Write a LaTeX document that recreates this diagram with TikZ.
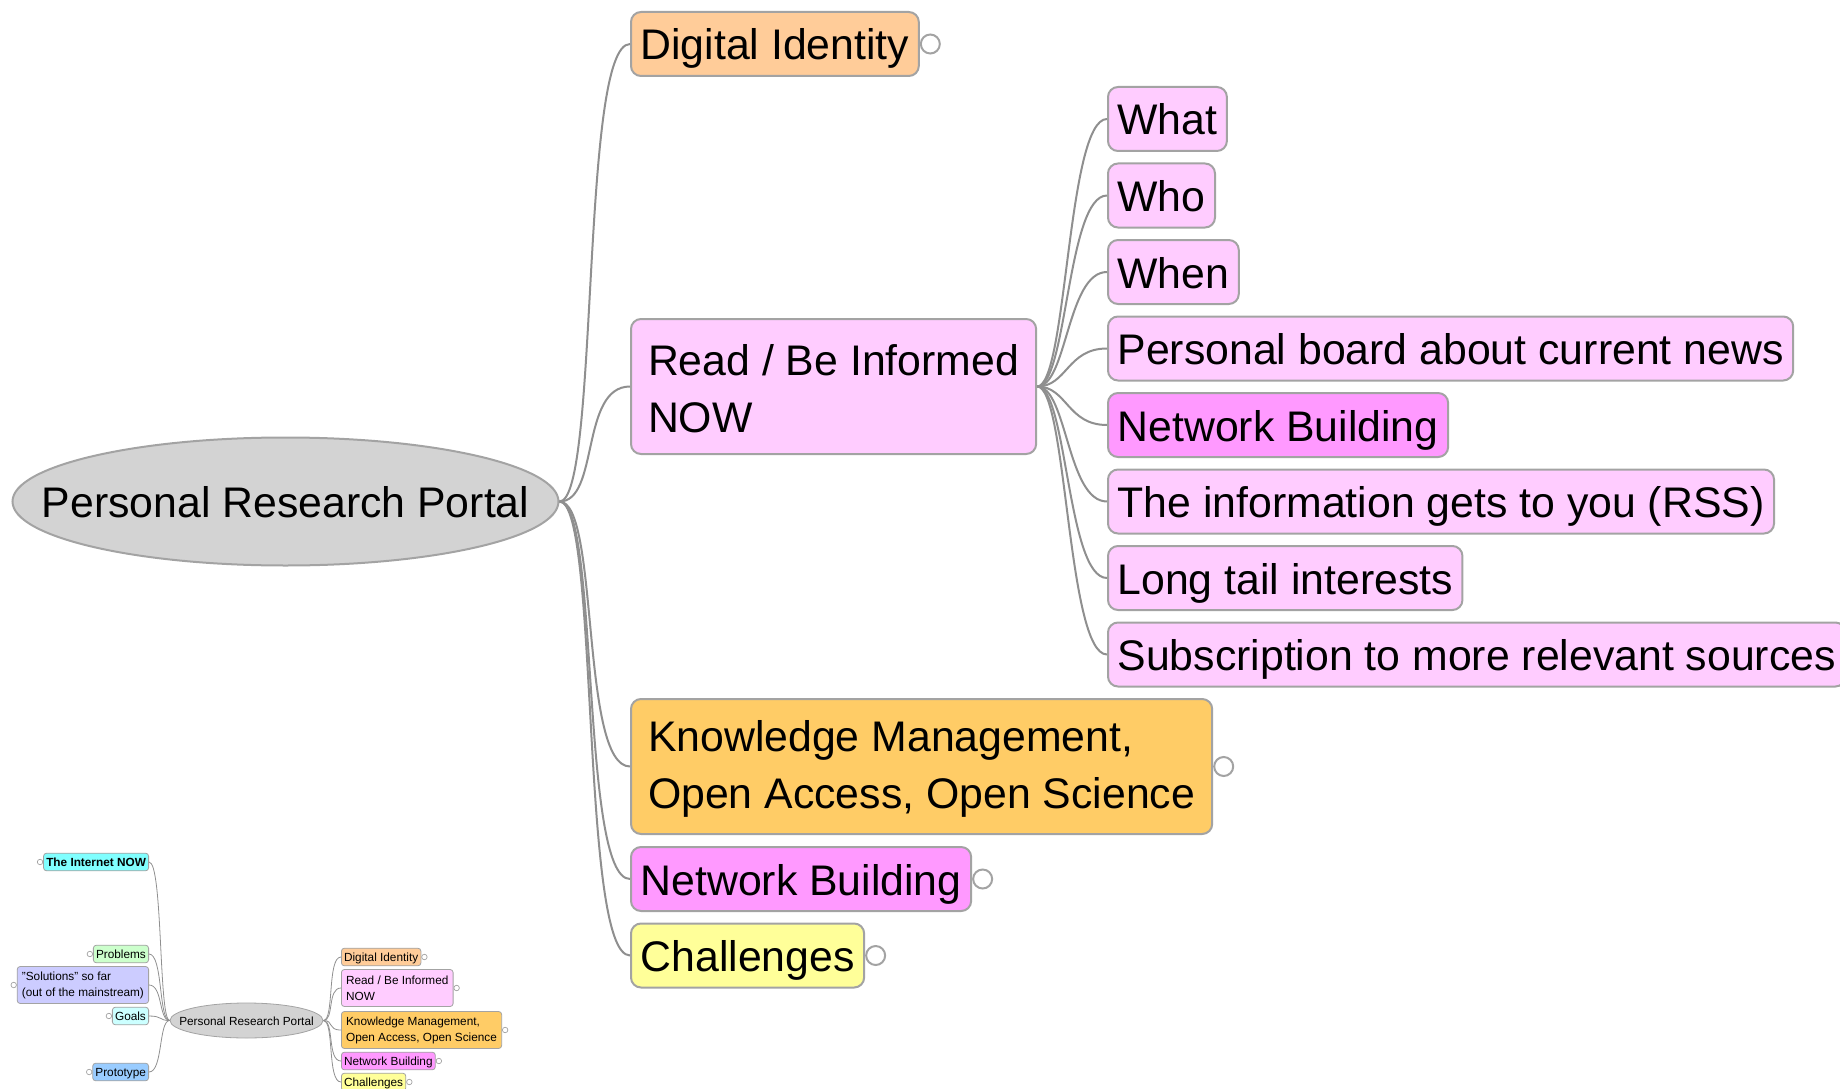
\documentclass[tikz,border=0pt]{standalone}
\usepackage{fontspec}
\setmainfont{Liberation Sans}
\usetikzlibrary{positioning,shapes.geometric}

\definecolor{wire}{HTML}{8F8F8F}
\definecolor{rim}{HTML}{A3A3A3}
\definecolor{rootgray}{HTML}{D3D3D3}
\definecolor{peach}{HTML}{FFCC99}
\definecolor{rosy}{HTML}{FFCCFF}
\definecolor{fuchsia}{HTML}{FF99FF}
\definecolor{amber}{HTML}{FFCC66}
\definecolor{lemon}{HTML}{FFFF99}
\definecolor{aqua}{HTML}{80FFFF}
\definecolor{mint}{HTML}{CCFFCC}
\definecolor{lilac}{HTML}{CCCCFF}
\definecolor{ice}{HTML}{CCFFFF}
\definecolor{sky}{HTML}{99CCFF}

\newcommand{\bigline}{\rule[-2pt]{0pt}{38pt}}
\newcommand{\miniline}{\rule[-0.5pt]{0pt}{10.5pt}}

\begin{document}
\begin{tikzpicture}[x=1pt,y=-1pt,
  box/.style={draw=rim,line width=2pt,rounded corners=10pt,anchor=west,
              font=\fontsize{42.8}{57}\selectfont},
  topic/.style={box,inner xsep=9.5pt,inner ysep=12pt,text height=36pt,text depth=4pt},
  block/.style={box,align=left,inner xsep=17pt,inner ysep=0pt,minimum height=135pt},
  root/.style={ellipse,draw=rim,fill=rootgray,line width=2pt,inner sep=0pt,
               minimum width=546pt,minimum height=128pt,
               font=\fontsize{42.8}{57}\selectfont,text height=36pt,text depth=4pt},
  knob/.style={circle,draw=rim,fill=white,line width=2pt,minimum size=19pt,inner sep=0pt},
  mini/.style={draw=rim,line width=0.8pt,rounded corners=3pt,
               font=\fontsize{11.8}{15.7}\selectfont,inner xsep=2.7pt,inner ysep=3.3pt,
               text height=10pt,text depth=1pt},
  miniblock/.style={draw=rim,line width=0.8pt,rounded corners=3pt,align=left,
               font=\fontsize{11.8}{15.7}\selectfont,inner xsep=4.7pt,inner ysep=0pt,
               minimum height=37pt},
  miniroot/.style={ellipse,draw=rim,fill=rootgray,line width=0.8pt,inner sep=0pt,
               minimum width=153pt,minimum height=35pt,
               font=\fontsize{11.8}{15.7}\selectfont,text height=10pt,text depth=1pt},
  miniknob/.style={circle,draw=rim,fill=white,line width=0.7pt,minimum size=5.5pt,inner sep=0pt},
  branch/.style 2 args={draw=wire,line width=2pt,
               to path={.. controls +(#1,0) and +(#2,0) .. (\tikztotarget)}}]
\useasboundingbox (0,0) rectangle (1840,1089);
\clip (0,0) rectangle (1840,1089);

\node[root] (prp) at (285.5,501.5) {\makebox[0pt]{Personal Research Portal}};
\node[topic,fill=peach] (di) at (630,44) {Digital Identity};
\node[block,fill=rosy] (read) at (630,386.5) {\bigline Read / Be Informed\\\bigline NOW};
\node[block,fill=amber] (km) at (630,766.5) {\bigline Knowledge Management,\\\bigline Open Access, Open Science};
\node[topic,fill=fuchsia] (nb) at (630,879) {Network Building};
\node[topic,fill=lemon] (ch) at (630,955.5) {Challenges};

\node[knob,right=0pt of di] (di-k) {};
\node[knob,right=0pt of km] (km-k) {};
\node[knob,right=0pt of nb] (nb-k) {};
\node[knob,right=0pt of ch] (ch-k) {};

\node[topic,fill=rosy] (what) at (1107,119) {What};
\node[topic,fill=rosy,below=10.5pt of what.south west,anchor=north west] (who) {Who};
\node[topic,fill=rosy,below=10.5pt of who.south west,anchor=north west] (when) {When};
\node[topic,fill=rosy,below=10.5pt of when.south west,anchor=north west] (news) {Personal board about current news};
\node[topic,fill=fuchsia,below=10.5pt of news.south west,anchor=north west] (net) {Network Building};
\node[topic,fill=rosy,below=10.5pt of net.south west,anchor=north west] (rss) {The information gets to you (RSS)};
\node[topic,fill=rosy,below=10.5pt of rss.south west,anchor=north west] (tail) {Long tail interests};
\node[topic,fill=rosy,below=10.5pt of tail.south west,anchor=north west] (subs) {Subscription to more relevant sources};

\draw[branch={40}{-50}] (prp.east) to (di.west);
\draw[branch={40}{-50}] (prp.east) to (read.west);
\draw[branch={40}{-50}] (prp.east) to (km.west);
\draw[branch={40}{-50}] (prp.east) to (nb.west);
\draw[branch={40}{-50}] (prp.east) to (ch.west);

\draw[branch={30}{-40}] (read.east) to (what.west);
\draw[branch={30}{-40}] (read.east) to (who.west);
\draw[branch={30}{-40}] (read.east) to (when.west);
\draw[branch={30}{-40}] (read.east) to (news.west);
\draw[branch={30}{-40}] (read.east) to (net.west);
\draw[branch={30}{-40}] (read.east) to (rss.west);
\draw[branch={30}{-40}] (read.east) to (tail.west);
\draw[branch={30}{-40}] (read.east) to (subs.west);

\node[miniroot] (m-prp) at (246.5,1020.5) {\makebox[0pt]{Personal Research Portal}};
\node[mini,fill=aqua,anchor=east] (m-web) at (149,862) {\textbf{The Internet NOW}};
\node[mini,fill=mint,anchor=east] (m-prob) at (149,954) {Problems};
\node[miniblock,fill=lilac,anchor=east] (m-sol) at (149,985) {\miniline"Solutions" so far\\\miniline(out of the mainstream)};
\node[mini,fill=ice,anchor=east] (m-goal) at (149,1016) {Goals};
\node[mini,fill=sky,anchor=east] (m-proto) at (149,1072) {Prototype};
\node[mini,fill=peach,anchor=west] (m-di) at (341,957) {Digital Identity};
\node[miniblock,fill=rosy,anchor=west] (m-read) at (341,988) {\miniline Read / Be Informed\\\miniline NOW};
\node[miniblock,fill=amber,anchor=west] (m-km) at (341,1030) {\miniline Knowledge Management,\\\miniline Open Access, Open Science};
\node[mini,fill=fuchsia,anchor=west] (m-nb) at (341,1061) {Network Building};
\node[mini,fill=lemon,anchor=west] (m-ch) at (341,1082) {Challenges};

\node[miniknob,left=0pt of m-web] (m-web-k) {};
\node[miniknob,left=0pt of m-prob] (m-prob-k) {};
\node[miniknob,left=0pt of m-sol] (m-sol-k) {};
\node[miniknob,left=0pt of m-goal] (m-goal-k) {};
\node[miniknob,left=0pt of m-proto] (m-proto-k) {};
\node[miniknob,right=0pt of m-di] (m-di-k) {};
\node[miniknob,right=0pt of m-read] (m-read-k) {};
\node[miniknob,right=0pt of m-km] (m-km-k) {};
\node[miniknob,right=0pt of m-nb] (m-nb-k) {};
\node[miniknob,right=0pt of m-ch] (m-ch-k) {};

\draw[branch={-11}{14},line width=0.8pt] (m-prp.west) to (m-web.east);
\draw[branch={-11}{14},line width=0.8pt] (m-prp.west) to (m-prob.east);
\draw[branch={-11}{14},line width=0.8pt] (m-prp.west) to (m-sol.east);
\draw[branch={-11}{14},line width=0.8pt] (m-prp.west) to (m-goal.east);
\draw[branch={-11}{14},line width=0.8pt] (m-prp.west) to (m-proto.east);
\draw[branch={11}{-14},line width=0.8pt] (m-prp.east) to (m-di.west);
\draw[branch={11}{-14},line width=0.8pt] (m-prp.east) to (m-read.west);
\draw[branch={11}{-14},line width=0.8pt] (m-prp.east) to (m-km.west);
\draw[branch={11}{-14},line width=0.8pt] (m-prp.east) to (m-nb.west);
\draw[branch={11}{-14},line width=0.8pt] (m-prp.east) to (m-ch.west);
\end{tikzpicture}
\end{document}
